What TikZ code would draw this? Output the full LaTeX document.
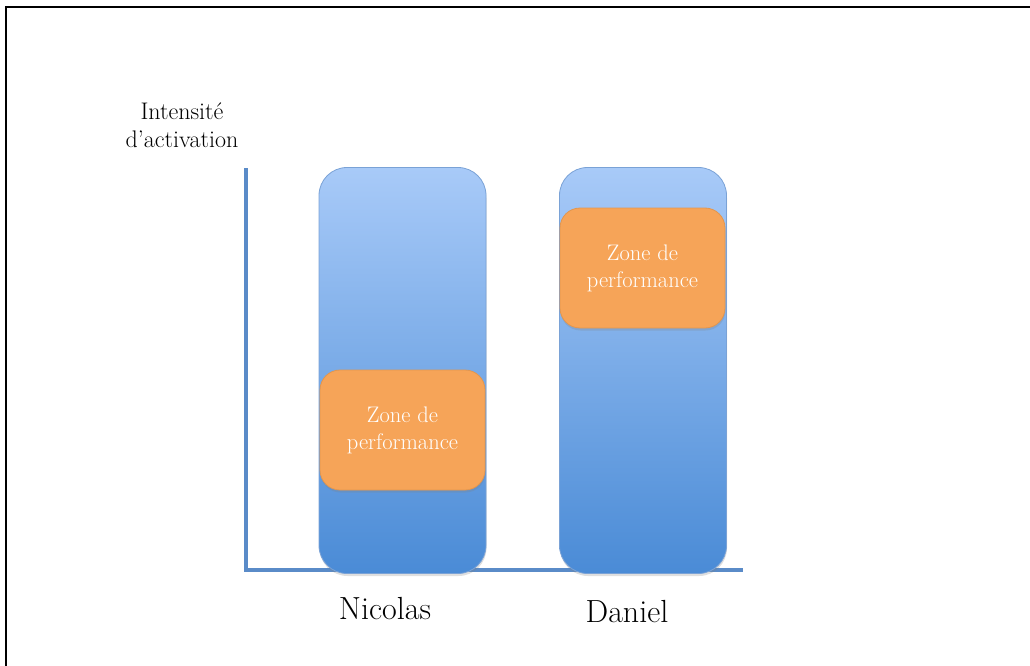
\documentclass[tikz,border=0pt]{standalone}
\usepackage{fontspec}
\usepackage{tikz}
\usetikzlibrary{calc}
\usetikzlibrary{positioning}
\usetikzlibrary{shadows}
\definecolor{barTop}{HTML}{A8CAF8}
\definecolor{barBottom}{HTML}{4A8BD6}
\definecolor{barEdge}{HTML}{7AA2D6}
\definecolor{zoneFill}{HTML}{F6A458}
\definecolor{zoneEdge}{HTML}{E3964E}
\definecolor{axisBlue}{HTML}{5A8BC8}
\tikzstyle{barnode} = [draw=barEdge, line width=0.8pt, rounded corners=28pt, top color=barTop, bottom color=barBottom, minimum width=167pt, minimum height=406pt, inner sep=0pt, drop shadow={shadow xshift=0.5pt, shadow yshift=-2.5pt, opacity=0.25}]
\tikzstyle{zonenode} = [draw=zoneEdge, line width=0.8pt, fill=zoneFill, rounded corners=20pt, minimum width=165pt, minimum height=120pt, inner sep=0pt, text=white, align=center, font=\fontsize{22.5}{27}\selectfont, drop shadow={shadow xshift=0.5pt, shadow yshift=-2.5pt, opacity=0.25}]
\tikzstyle{namenode} = [font=\fontsize{32}{36}\selectfont, inner sep=0pt]
\tikzstyle{axisline} = [draw=axisBlue, line width=3.5pt]

\begin{document}
\begin{tikzpicture}[x=1pt, y=-1pt]
\useasboundingbox (0,0) rectangle (1030,666);
% outer frame (only top and left are inside the page)
\coordinate (frame_bl) at (6,666);
\coordinate (frame_tl) at (6,7);
\coordinate (frame_tr) at (1030,7);
\draw[line width=1.6pt] (frame_bl) -- (frame_tl) -- (frame_tr);

% axes
\coordinate (axis_top) at (246,168);
\coordinate (origin) at (246,570);
\coordinate (axis_end) at (743,570);
\draw[axisline] (axis_top) -- (origin) -- (axis_end);

\node[align=center, font=\fontsize{24}{28}\selectfont] (y_label) at (182,125) {Intensité\\d’activation};

% bars
\node[barnode] (bar_nicolas) at (402.5,370.5) {};
\node[barnode] (bar_daniel) at (643,370.5) {};

\node[zonenode] (zone_nicolas) at ($(bar_nicolas.west)!0.5!(bar_nicolas.east)+(0,59.5)$) {Zone de\\performance};
\node[zonenode] (zone_daniel) at ($(bar_daniel.west)!0.5!(bar_daniel.east)+(-0.5,-102.5)$) {Zone de\\performance};

% names
\node[namenode, anchor=base] (name_nicolas) at (385,619) {Nicolas};
\node[namenode, anchor=base] (name_daniel) at (627,622) {Daniel};
\end{tikzpicture}
\end{document}
